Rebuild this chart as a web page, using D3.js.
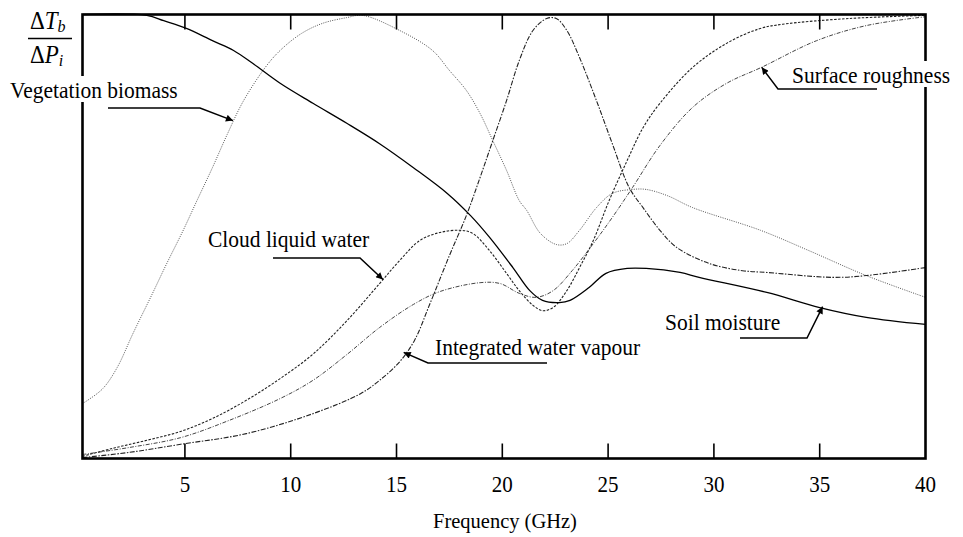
<!DOCTYPE html>
<html>
<head>
<meta charset="utf-8">
<script src="https://cdn.jsdelivr.net/npm/d3@7/dist/d3.min.js"></script>
<style>
  html, body { margin: 0; padding: 0; background: #ffffff; }
  svg { display: block; }
</style>
</head>
<body>
<svg id="chart"></svg>
<script>
// Sensitivity curves, frequency (GHz) vs normalised dTb/dPi (0-100)
const soilMoisture = [
  [0.16, 100], [3.2, 99.8], [4.0, 98.6], [5.1, 96.8], [6.3, 94.1], [7.3, 91.9],
  [8.2, 89.0], [9.5, 84.5], [11.05, 80.0], [12.65, 75.5], [14.2, 70.9], [15.8, 65.5],
  [17.4, 59.7], [18.5, 54.7], [19.4, 49.8], [20.5, 43.0], [21.3, 37.8], [21.9, 35.6],
  [22.7, 35.1], [23.2, 35.6], [24.1, 38.5], [24.9, 41.7], [25.9, 42.8], [26.8, 42.8],
  [28.4, 41.9], [29.3, 40.8], [32.5, 37.4], [35.0, 34.0], [37.2, 31.8], [40, 30.2]
];
const vegetationBiomass = [
  [0.16, 12.4], [0.4, 13.1], [1.13, 15.8], [1.8, 20.5], [2.55, 28.2], [3.45, 37.0],
  [4.15, 44.0], [4.9, 51.2], [5.6, 58.4], [6.3, 65.5], [7.0, 73.0], [7.75, 80.4],
  [8.8, 88.1], [9.5, 91.9], [10.5, 95.7], [11.5, 98.0], [12.65, 99.3], [13.4, 99.8],
  [15.15, 96.4], [16.7, 91.9], [17.5, 87.4], [18.3, 82.9], [18.95, 77.7], [19.55, 71.6],
  [20.2, 64.9], [20.8, 58.1], [21.15, 55.9], [21.8, 50.7], [22.55, 48.2], [23.05, 48.4],
  [23.65, 51.4], [24.45, 56.5], [25.2, 59.7], [26.15, 60.6], [26.8, 60.6], [27.8, 59.2],
  [29.0, 56.5], [32.2, 51.4], [34.5, 46.8], [37.2, 41.2], [40, 36.3]
];
const cloudLiquidWater = [
  [0.16, 0.5], [1.6, 2.3], [3.2, 4.1], [4.8, 6.1], [6.3, 9.0], [7.9, 13.1],
  [9.5, 18.0], [11.05, 23.5], [12.65, 31.0], [14.2, 39.4], [15.15, 44.6], [16.1, 49.1],
  [17.05, 50.9], [18.0, 51.4], [18.6, 50.7], [19.4, 46.8], [20.2, 41.7], [20.8, 37.8],
  [21.45, 34.5], [21.9, 33.3], [22.4, 34.0], [23.05, 37.8], [23.65, 43.0], [24.3, 49.1],
  [25.05, 58.1], [25.9, 67.1], [26.65, 74.5], [27.45, 80.0], [29.0, 88.1], [30.6, 93.5],
  [32.15, 96.8], [33.25, 97.8], [36.4, 99.1], [40, 99.8]
];
const surfaceRoughness = [
  [0.16, 0.9], [2.4, 2.5], [4.8, 4.7], [7.1, 8.6], [9.5, 13.5], [11.05, 17.6],
  [12.65, 23.4], [14.2, 29.5], [15.8, 34.7], [17.05, 37.6], [18.95, 39.6], [19.9, 39.4],
  [20.8, 37.2], [21.6, 36.3], [22.4, 37.8], [23.3, 42.3], [24.3, 48.4], [25.2, 54.3],
  [26.15, 61.0], [27.45, 70.5], [29.0, 79.1], [30.6, 84.5], [32.25, 88.1], [34.85, 94.1],
  [37.2, 97.5], [40, 99.5]
];
const waterVapour = [
  [0.16, 0.2], [2.4, 1.4], [4.8, 3.2], [7.9, 5.6], [11.05, 10.1], [13.3, 14.6],
  [14.2, 17.6], [15.15, 21.8], [15.85, 26.6], [16.55, 34.5], [17.5, 45.7], [18.3, 54.7],
  [18.95, 63.3], [19.55, 71.6], [20.2, 80.6], [20.8, 89.6], [21.45, 96.4], [22.1, 99.1],
  [22.55, 99.1], [23.05, 96.4], [23.65, 90.3], [24.45, 80.6], [25.2, 70.9], [26.0, 61.0],
  [26.65, 56.5], [27.45, 51.4], [28.25, 47.5], [29.8, 43.9], [31.35, 42.3], [32.5, 41.9],
  [35.6, 40.8], [37.2, 41.2], [40, 43.0]
];
const xTicks = [5, 10, 15, 20, 25, 30, 35, 40];
const xTitle = "Frequency (GHz)";

// label text, arrow tip in data units [GHz, value]
const labelNames = ["Vegetation biomass", "Cloud liquid water", "Integrated water vapour", "Soil moisture", "Surface roughness"];
const labelTips = [[7.27, 76.1], [14.36, 40.3], [15.34, 23.9], [35.14, 34.2], [32.26, 88.1]];

const width = 963, height = 537;
const plotLeft = 82.5, plotRight = 925.5, plotTop = 14.5, plotBottom = 458.5;
const serif = "'Liberation Serif', Tinos, 'Times New Roman', Times, FreeSerif, 'DejaVu Serif', serif";

const svg = d3.select("#chart")
  .attr("width", width)
  .attr("height", height)
  .attr("viewBox", [0, 0, width, height])
  .attr("font-family", serif);

const x = d3.scaleLinear().domain([0.16, 40]).range([plotLeft, plotRight]);
const y = d3.scaleLinear().domain([0, 100]).range([plotBottom, plotTop]);

const defs = svg.append("defs");
defs.append("clipPath").attr("id", "plot-clip")
  .append("rect").attr("x", plotLeft).attr("y", plotTop - 2)
  .attr("width", plotRight - plotLeft).attr("height", plotBottom - plotTop + 2);

defs.append("marker")
  .attr("id", "arrow")
  .attr("viewBox", "0 0 10 10")
  .attr("refX", 10).attr("refY", 5)
  .attr("markerWidth", 9).attr("markerHeight", 7)
  .attr("markerUnits", "userSpaceOnUse")
  .attr("orient", "auto")
  .append("path").attr("d", "M0,0L10,5L0,10z").attr("fill", "#000");

const line = d3.line()
  .x(d => x(d[0]))
  .y(d => y(d[1]))
  .curve(d3.curveCatmullRom.alpha(0.5));

// series styles
const series = [
  { data: vegetationBiomass, stroke: "#555", width: 1, dash: "1,1.3" },
  { data: surfaceRoughness, stroke: "#444", width: 1, dash: "4,1.5,1,1.5" },
  { data: waterVapour, stroke: "#222", width: 1.1, dash: "5,1.5,1.5,1.5" },
  { data: cloudLiquidWater, stroke: "#222", width: 1.1, dash: "2.5,1.5" },
  { data: soilMoisture, stroke: "#000", width: 1.3, dash: null }
];

const curves = svg.append("g").attr("clip-path", "url(#plot-clip)");
curves.selectAll("path")
  .data(series)
  .join("path")
  .attr("d", d => line(d.data))
  .attr("fill", "none")
  .attr("stroke", d => d.stroke)
  .attr("stroke-width", d => d.width)
  .attr("stroke-dasharray", d => d.dash);

// frame
svg.append("rect")
  .attr("x", plotLeft).attr("y", plotTop)
  .attr("width", plotRight - plotLeft).attr("height", plotBottom - plotTop)
  .attr("fill", "none").attr("stroke", "#000").attr("stroke-width", 2.6);

// ticks, top and bottom, pointing inward
const tickG = svg.append("g").attr("stroke", "#000").attr("stroke-width", 1.6);
tickG.selectAll(".tb").data(xTicks.slice(0, -1)).join("line").attr("class", "tb")
  .attr("x1", d => x(d)).attr("x2", d => x(d))
  .attr("y1", plotBottom).attr("y2", plotBottom - 15);
tickG.selectAll(".tt").data(xTicks.slice(0, -1)).join("line").attr("class", "tt")
  .attr("x1", d => x(d)).attr("x2", d => x(d))
  .attr("y1", plotTop).attr("y2", plotTop + 15);

// serif text helper, a little taller than wide like the source
function sText(g, str, px, py, size, anchor) {
  return g.append("text")
    .attr("transform", `translate(${px},${py}) scale(1,1.05)`)
    .attr("text-anchor", anchor || "start")
    .attr("font-family", serif)
    .attr("fill", "#000")
    .style("font-size", size + "px")
    .text(str);
}

xTicks.forEach(t => sText(svg, t, x(t), 492, 21, "middle"));
sText(svg, xTitle, 505, 528, 20.5, "middle");

// y label: dTb / dPi
const yl = svg.append("g").attr("font-family", serif);
const t1 = yl.append("text").attr("transform", "translate(30,29) scale(1,1.05)").style("font-size", "23px");
t1.append("tspan").text("\u0394");
t1.append("tspan").style("font-style", "italic").text("T");
t1.append("tspan").attr("dy", 3).style("font-size", "16px").style("font-style", "italic").text("b");
yl.append("line").attr("x1", 28).attr("x2", 72).attr("y1", 38.5).attr("y2", 38.5)
  .attr("stroke", "#000").attr("stroke-width", 1.4);
const t2 = yl.append("text").attr("transform", "translate(30,63) scale(1,1.05)").style("font-size", "23px");
t2.append("tspan").text("\u0394");
t2.append("tspan").style("font-style", "italic").text("P");
t2.append("tspan").attr("dy", 3).style("font-size", "16px").style("font-style", "italic").text("i");

// annotation layout: text baseline origin, leader start and elbow in pixels
const labelLayout = [
  { tx: 10, ty: 98, path: [[108, 108], [200, 108]] },
  { tx: 208, ty: 247, path: [[273, 258], [360, 258]] },
  { tx: 435, ty: 355, path: [[547, 363], [428, 363]] },
  { tx: 665, ty: 330, path: [[740, 338], [807, 338]] },
  { tx: 792, ty: 83, path: [[877, 89], [778, 89]] }
];

const ann = svg.append("g");
labelNames.forEach((name, i) => {
  const lay = labelLayout[i];
  const g = ann.append("g");
  const bg = g.append("rect").attr("fill", "#fff");
  const t = sText(g, name, lay.tx, lay.ty, 21.5, "start");
  const bb = t.node().getBBox();
  bg.attr("x", lay.tx - 3).attr("y", lay.ty - 22)
    .attr("width", bb.width + 6).attr("height", 26);
  const tip = labelTips[i];
  const pts = lay.path.concat([[x(tip[0]), y(tip[1])]]);
  g.append("path")
    .attr("d", d3.line()(pts))
    .attr("fill", "none")
    .attr("stroke", "#000")
    .attr("stroke-width", 1.5)
    .attr("marker-end", "url(#arrow)");
});
</script>
</body>
</html>
